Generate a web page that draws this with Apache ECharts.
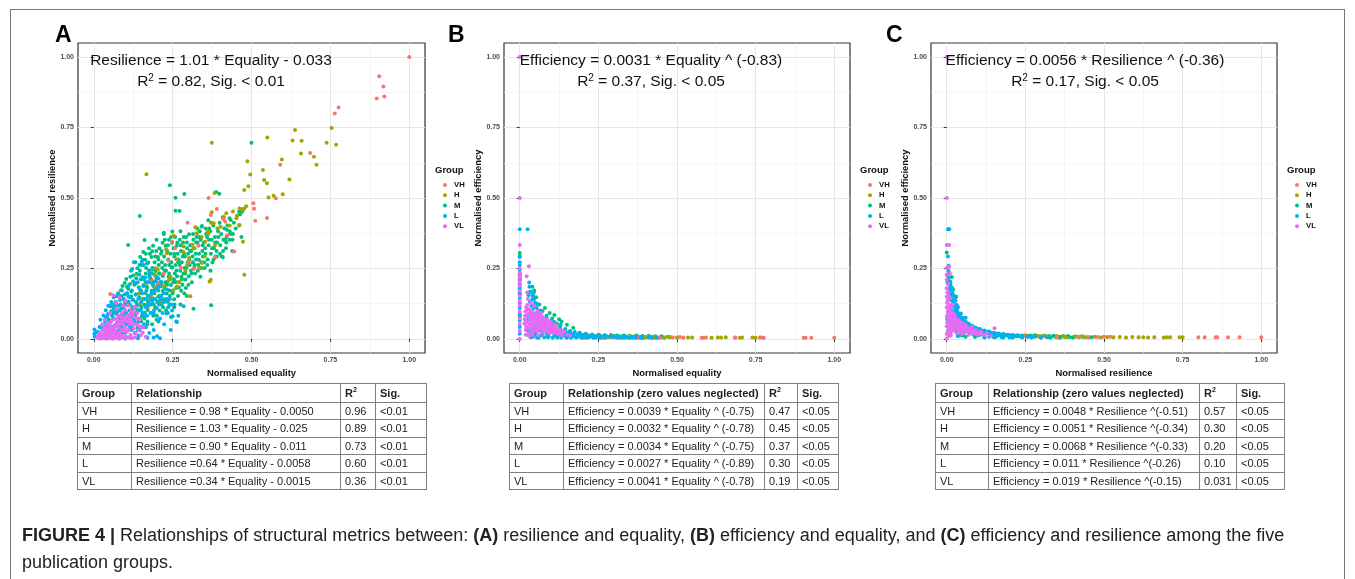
<!DOCTYPE html>
<html><head><meta charset="utf-8">
<script src="https://cdn.jsdelivr.net/npm/echarts@6/dist/echarts.min.js"></script>
<style>
html,body{margin:0;padding:0;background:#fff;}
#wrap{position:relative;width:1355px;height:579px;overflow:hidden;font-family:"Liberation Sans",Arial,sans-serif;background:#fff;}
#chart{position:absolute;left:0;top:0;width:1355px;height:579px;}
#frame{position:absolute;left:10px;top:9px;width:1333px;height:620px;border:1px solid #777;pointer-events:none;}
table.t{position:absolute;border-collapse:collapse;table-layout:fixed;font-size:11px;color:#222;font-family:"Liberation Sans",Arial,sans-serif;}
table.t td{border:1px solid #808080;padding:0 0 0 4px;white-space:nowrap;overflow:hidden;vertical-align:middle;line-height:12px;}
table.t tr.h td{font-weight:bold;}
table.t sup{font-size:7px;line-height:0;vertical-align:5px;}
#cap{position:absolute;left:22px;top:522px;font-size:18px;line-height:27px;color:#222;white-space:nowrap;}
</style>
</head><body>
<div id="wrap">
<div id="chart"></div>
<div id="frame"></div>
<div id="cap"><b>FIGURE 4 |</b> Relationships of structural metrics between: <b>(A)</b> resilience and equality, <b>(B)</b> efficiency and equality, and <b>(C)</b> efficiency and resilience among the five<br>publication groups.</div>
</div>
<script>
// ---------- data ----------
const groups = ['VH','H','M','L','VL'];
const tickValues = [0, 0.25, 0.5, 0.75, 1];
const minorValues = [0.125, 0.375, 0.625, 0.875];

// Panel A: x = normalised equality, y = normalised resilience
const A_VH = [[1.00,1.00],[0.905,0.932],[0.918,0.896],[0.921,0.860],[0.897,0.853],[0.776,0.821],[0.764,0.800],[0.686,0.660],[0.591,0.618],[0.577,0.499],[0.549,0.429],[0.512,0.419],[0.506,0.481],[0.508,0.462],[0.364,0.500],[0.390,0.461],[0.411,0.425],[0.297,0.412],[0.445,0.310],[0.385,0.290],[0.316,0.248],[0.248,0.345],[0.258,0.322],[0.052,0.159],[0.371,0.440],[0.417,0.416],[0.222,0.233],[0.202,0.198],[0.152,0.163],[0.183,0.212],[0.276,0.252],[0.332,0.331],[0.301,0.272],[0.423,0.368],[0.137,0.118],[0.104,0.071],[0.236,0.278]];
const A_H = [[0.754,0.748],[0.638,0.741],[0.630,0.704],[0.659,0.703],[0.550,0.715],[0.738,0.696],[0.768,0.689],[0.374,0.696],[0.657,0.658],[0.698,0.646],[0.706,0.618],[0.596,0.637],[0.487,0.630],[0.536,0.599],[0.496,0.583],[0.540,0.564],[0.620,0.566],[0.549,0.552],[0.490,0.542],[0.477,0.528],[0.599,0.513],[0.570,0.508],[0.554,0.502],[0.167,0.584],[0.383,0.518],[0.477,0.462],[0.470,0.460],[0.454,0.436],[0.420,0.446],[0.374,0.449],[0.380,0.410],[0.462,0.404],[0.473,0.345],[0.477,0.228],[0.322,0.396],[0.327,0.375],[0.353,0.345],[0.285,0.328],[0.316,0.322],[0.344,0.269],[0.367,0.204],[0.371,0.210],[0.253,0.366],[0.195,0.251],[0.211,0.198],[0.190,0.186],[0.306,0.151],[0.264,0.186],[0.148,0.127],[0.095,0.092],[0.232,0.304],[0.203,0.247],[0.221,0.188],[0.243,0.221],[0.262,0.283],[0.284,0.309],[0.302,0.287],[0.181,0.153],[0.162,0.194],[0.213,0.131],[0.251,0.172],[0.193,0.228],[0.229,0.318],[0.271,0.203],[0.313,0.334],[0.342,0.362],[0.362,0.381],[0.384,0.332],[0.352,0.293],[0.291,0.241],[0.122,0.104],[0.143,0.161],[0.172,0.113],[0.334,0.252],[0.402,0.398],[0.413,0.433],[0.441,0.452],[0.462,0.463],[0.483,0.471],[0.452,0.428],[0.372,0.412],[0.392,0.392],[0.431,0.402],[0.363,0.372],[0.296,0.262],[0.238,0.208],[0.158,0.141]];
const A_M = [[0.500,0.696],[0.241,0.545],[0.287,0.514],[0.259,0.501],[0.388,0.521],[0.398,0.515],[0.259,0.455],[0.272,0.454],[0.146,0.436],[0.222,0.377],[0.161,0.351],[0.109,0.333],[0.422,0.387],[0.409,0.290],[0.372,0.119],[0.264,0.060],[0.316,0.107],[0.461,0.452],[0.455,0.438],[0.430,0.428],[0.433,0.372],[0.416,0.352],[0.342,0.398],
[0.041,0.021],[0.043,0.052],[0.038,0.078],[0.047,0.033],[0.052,0.061],[0.055,0.098],[0.049,0.043],[0.058,0.121],[0.061,0.028],[0.064,0.072],[0.066,0.113],[0.063,0.148],[0.071,0.051],[0.073,0.092],[0.069,0.131],[0.075,0.019],[0.077,0.162],[0.081,0.042],[0.084,0.081],[0.079,0.118],[0.086,0.173],[0.083,0.103],[0.092,0.063],[0.089,0.109],[0.094,0.142],[0.091,0.188],[0.096,0.031],
[0.101,0.052],[0.104,0.088],[0.099,0.128],[0.106,0.161],[0.103,0.213],[0.108,0.079],[0.112,0.071],[0.114,0.122],[0.109,0.178],[0.116,0.221],[0.111,0.033],[0.118,0.151],[0.121,0.092],[0.124,0.139],[0.119,0.168],[0.126,0.203],[0.122,0.248],[0.127,0.062],[0.123,0.112],[0.131,0.083],[0.134,0.131],[0.129,0.192],[0.136,0.231],[0.133,0.158],[0.138,0.101],[0.132,0.272],
[0.141,0.102],[0.144,0.148],[0.139,0.201],[0.146,0.242],[0.143,0.183],[0.148,0.121],[0.142,0.071],[0.147,0.291],[0.151,0.112],[0.154,0.141],[0.149,0.172],[0.156,0.219],[0.153,0.262],[0.158,0.191],[0.152,0.082],[0.157,0.308],[0.161,0.121],[0.164,0.163],[0.159,0.211],[0.166,0.252],[0.163,0.281],[0.168,0.142],[0.162,0.093],[0.167,0.188],[0.165,0.232],
[0.171,0.103],[0.174,0.152],[0.169,0.182],[0.176,0.222],[0.173,0.271],[0.178,0.302],[0.172,0.131],[0.177,0.201],[0.175,0.243],[0.181,0.122],[0.184,0.171],[0.179,0.213],[0.186,0.252],[0.183,0.291],[0.188,0.331],[0.182,0.151],[0.187,0.192],[0.185,0.232],[0.189,0.082],
[0.191,0.142],[0.194,0.181],[0.189,0.203],[0.196,0.241],[0.193,0.272],[0.198,0.312],[0.192,0.162],[0.197,0.222],[0.195,0.112],[0.199,0.352],[0.201,0.131],[0.204,0.172],[0.199,0.213],[0.206,0.262],[0.203,0.291],[0.208,0.322],[0.202,0.192],[0.207,0.233],[0.205,0.151],[0.209,0.101],
[0.211,0.152],[0.214,0.193],[0.209,0.231],[0.216,0.272],[0.213,0.302],[0.218,0.341],[0.212,0.203],[0.217,0.252],[0.215,0.121],[0.219,0.171],[0.221,0.141],[0.224,0.182],[0.219,0.223],[0.226,0.262],[0.223,0.292],[0.228,0.331],[0.222,0.372],[0.227,0.201],[0.225,0.243],[0.229,0.102],
[0.231,0.161],[0.234,0.203],[0.229,0.242],[0.236,0.282],[0.233,0.312],[0.238,0.352],[0.232,0.192],[0.237,0.221],[0.235,0.132],[0.239,0.262],[0.241,0.152],[0.244,0.191],[0.239,0.232],[0.246,0.272],[0.243,0.302],[0.248,0.341],[0.242,0.213],[0.247,0.253],[0.245,0.122],[0.249,0.381],
[0.251,0.172],[0.254,0.212],[0.249,0.253],[0.256,0.292],[0.253,0.322],[0.258,0.362],[0.252,0.201],[0.257,0.232],[0.255,0.141],[0.261,0.181],[0.264,0.222],[0.259,0.262],[0.266,0.302],[0.263,0.331],[0.268,0.272],[0.262,0.243],[0.267,0.152],
[0.271,0.201],[0.274,0.242],[0.269,0.282],[0.276,0.312],[0.273,0.352],[0.278,0.221],[0.272,0.262],[0.277,0.171],[0.275,0.382],[0.281,0.192],[0.284,0.232],[0.279,0.272],[0.286,0.302],[0.283,0.342],[0.288,0.252],[0.282,0.292],[0.287,0.161],
[0.291,0.211],[0.294,0.252],[0.289,0.292],[0.296,0.322],[0.293,0.362],[0.298,0.272],[0.292,0.181],[0.301,0.222],[0.304,0.262],[0.299,0.302],[0.306,0.332],[0.303,0.282],[0.308,0.242],[0.302,0.371],[0.311,0.201],[0.314,0.272],[0.309,0.312],[0.316,0.352],[0.313,0.292],[0.318,0.252],
[0.321,0.232],[0.324,0.282],[0.319,0.322],[0.326,0.362],[0.323,0.302],[0.328,0.392],[0.331,0.262],[0.334,0.302],[0.329,0.342],[0.336,0.382],[0.333,0.281],[0.338,0.221],[0.341,0.272],[0.344,0.312],[0.339,0.352],[0.346,0.292],[0.343,0.401],
[0.351,0.252],[0.354,0.302],[0.349,0.342],[0.356,0.372],[0.353,0.322],[0.361,0.282],[0.364,0.332],[0.359,0.362],[0.366,0.392],[0.363,0.421],[0.371,0.302],[0.374,0.352],[0.369,0.382],[0.376,0.272],[0.381,0.322],[0.384,0.362],[0.379,0.402],[0.386,0.292],
[0.391,0.342],[0.394,0.382],[0.389,0.312],[0.401,0.332],[0.404,0.372],[0.399,0.412],[0.406,0.292],[0.411,0.352],[0.414,0.392],[0.409,0.432],[0.421,0.362],[0.424,0.402],[0.419,0.322],[0.431,0.382],[0.434,0.422],[0.441,0.372],[0.444,0.412],[0.439,0.312],[0.461,0.402],[0.464,0.442],[0.471,0.452],[0.468,0.362],
[0.105,0.185],[0.115,0.195],[0.125,0.225],[0.135,0.215],[0.145,0.262],[0.155,0.281],[0.165,0.302],[0.175,0.322],[0.185,0.311],[0.195,0.292],[0.205,0.282],[0.215,0.312],[0.225,0.352],[0.235,0.332],[0.245,0.362],[0.255,0.302],[0.265,0.342],[0.275,0.332],[0.285,0.362],[0.295,0.342],[0.305,0.312],[0.315,0.372],[0.325,0.342],[0.335,0.362],[0.345,0.332],[0.355,0.392],[0.365,0.352],[0.375,0.322],[0.385,0.342],[0.395,0.362],
[0.12,0.042],[0.13,0.052],[0.14,0.041],[0.15,0.062],[0.16,0.072],[0.17,0.062],[0.18,0.092],[0.19,0.122],[0.2,0.082],[0.21,0.132],[0.22,0.112],[0.23,0.142],[0.24,0.172],[0.25,0.162],[0.26,0.202],[0.27,0.182],[0.28,0.212],[0.29,0.232],[0.3,0.192],[0.31,0.232],[0.32,0.262],[0.33,0.242],[0.34,0.252],[0.35,0.272],[0.36,0.262],[0.37,0.242],[0.38,0.282],[0.39,0.292],[0.4,0.302],[0.41,0.312],[0.42,0.342],[0.43,0.352],[0.44,0.352],[0.45,0.392],
[0.235,0.092],[0.255,0.112],[0.275,0.122],[0.295,0.152],[0.245,0.078],[0.205,0.062],[0.185,0.052],[0.165,0.041],[0.145,0.031],[0.091,0.021],[0.078,0.072],[0.068,0.098],[0.058,0.082],[0.048,0.068],[0.088,0.152],[0.098,0.198]];
const A_L = [[0.002,0.033],[0.002,0.018],[0.003,0.008],[0.012,0.025],[0.018,0.042],[0.021,0.068],[0.025,0.012],[0.028,0.051],[0.031,0.083],[0.033,0.029],[0.036,0.062],[0.038,0.102],[0.041,0.041],[0.043,0.078],[0.046,0.118],[0.048,0.021],[0.051,0.058],[0.053,0.093],[0.055,0.131],[0.057,0.032],[0.061,0.071],[0.063,0.108],[0.065,0.151],[0.067,0.047],[0.069,0.012],[0.071,0.088],[0.073,0.121],[0.075,0.062],[0.077,0.158],[0.079,0.031],[0.081,0.101],[0.083,0.138],[0.085,0.072],[0.087,0.048],[0.089,0.172],[0.091,0.112],[0.093,0.082],[0.095,0.142],[0.097,0.058],[0.099,0.021],[0.101,0.121],[0.103,0.092],[0.105,0.162],[0.107,0.068],[0.109,0.188],[0.111,0.132],[0.113,0.101],[0.115,0.042],[0.117,0.148],[0.119,0.078],[0.121,0.172],[0.123,0.112],[0.125,0.138],[0.127,0.272],[0.128,0.061],[0.131,0.092],[0.133,0.158],[0.135,0.198],[0.137,0.122],[0.139,0.032],[0.141,0.142],[0.143,0.102],[0.145,0.178],[0.147,0.071],[0.149,0.212],[0.151,0.131],[0.153,0.162],[0.155,0.092],[0.157,0.188],[0.159,0.052],[0.161,0.142],[0.163,0.218],[0.165,0.112],[0.167,0.172],[0.169,0.082],[0.171,0.152],[0.173,0.201],[0.175,0.122],[0.177,0.232],[0.179,0.216],[0.181,0.092],[0.183,0.162],[0.185,0.132],[0.187,0.192],[0.191,0.102],[0.193,0.172],[0.196,0.142],[0.199,0.068],[0.201,0.009],[0.204,0.182],[0.207,0.122],[0.211,0.186],[0.214,0.152],[0.218,0.092],[0.221,0.162],[0.226,0.132],[0.232,0.175],[0.236,0.112],[0.241,0.142],[0.248,0.101],[0.256,0.122],[0.268,0.082],[0.285,0.116],[0.261,0.062],[0.244,0.032],[0.223,0.052],[0.116,0.009],[0.142,0.012],[0.176,0.021],[0.158,0.262],[0.138,0.251],[0.118,0.242],[0.098,0.158],[0.074,0.151],[0.053,0.116],[0.063,0.045],[0.042,0.021],[0.127,0.068],[0.169,0.268],[0.152,0.275],
[0.06,0.09],[0.07,0.13],[0.08,0.06],[0.09,0.04],[0.1,0.1],[0.11,0.15],[0.12,0.09],[0.13,0.11],[0.14,0.06],[0.15,0.1],[0.16,0.08],[0.17,0.12],[0.18,0.14],[0.19,0.09],[0.2,0.11],[0.21,0.14],[0.22,0.13],[0.23,0.09],[0.24,0.12],[0.25,0.08],[0.11,0.052],[0.12,0.032],[0.13,0.021],[0.15,0.042],[0.17,0.052],[0.19,0.032],[0.21,0.072],[0.23,0.142],[0.195,0.205],[0.205,0.215],[0.185,0.245],[0.215,0.201],[0.165,0.202],[0.145,0.228],[0.125,0.205],[0.105,0.131],[0.095,0.108],[0.085,0.122],[0.075,0.098],[0.065,0.122],[0.045,0.088],[0.035,0.048],[0.025,0.038],[0.015,0.012],[0.005,0.022],[0.1,0.001],[0.08,0.002],[0.06,0.005],[0.14,0.002],[0.17,0.004],[0.19,0.005],[0.21,0.002]];
const A_VL = [[0.012,0.003],[0.015,0.012],[0.018,0.006],[0.021,0.022],[0.023,0.004],[0.026,0.014],[0.028,0.031],[0.031,0.008],[0.033,0.019],[0.035,0.042],[0.037,0.003],[0.039,0.026],[0.041,0.011],[0.043,0.052],[0.045,0.034],[0.047,0.006],[0.049,0.021],[0.051,0.043],[0.053,0.013],[0.055,0.062],[0.057,0.028],[0.059,0.004],[0.061,0.038],[0.063,0.018],[0.065,0.071],[0.067,0.048],[0.069,0.009],[0.071,0.029],[0.073,0.058],[0.075,0.015],[0.077,0.082],[0.079,0.041],[0.081,0.022],[0.083,0.005],[0.085,0.063],[0.087,0.032],[0.089,0.092],[0.091,0.012],[0.093,0.052],[0.095,0.073],[0.097,0.027],[0.099,0.102],[0.101,0.042],[0.103,0.008],[0.105,0.061],[0.107,0.085],[0.109,0.118],[0.111,0.032],[0.113,0.072],[0.115,0.052],[0.117,0.014],[0.119,0.098],[0.121,0.063],[0.124,0.082],[0.127,0.038],[0.129,0.112],[0.132,0.021],[0.135,0.052],[0.138,0.091],[0.142,0.031],[0.146,0.068],[0.149,0.012],[0.062,0.155],[0.071,0.128],[0.093,0.118],[0.052,0.092],[0.035,0.068],[0.027,0.051],[0.117,0.003],[0.157,0.041],[0.165,0.008],[0.081,0.147],[0.101,0.135],
[0.02,0.001],[0.03,0.002],[0.04,0.001],[0.05,0.002],[0.06,0.001],[0.07,0.003],[0.08,0.001],[0.09,0.004],[0.1,0.002],[0.11,0.005],[0.12,0.002],[0.13,0.006],[0.045,0.015],[0.055,0.025],[0.065,0.035],[0.075,0.045],[0.085,0.055],[0.095,0.065],[0.105,0.075],[0.115,0.085],[0.125,0.095],[0.135,0.075],[0.145,0.045],[0.155,0.022],[0.125,0.052],[0.065,0.022],[0.085,0.012],[0.105,0.025],[0.115,0.062],[0.095,0.035],[0.075,0.068],[0.055,0.045],[0.035,0.025],[0.025,0.008],[0.038,0.035],[0.048,0.055],[0.072,0.105],[0.088,0.078]];

// Panel B: x = normalised equality, y = normalised efficiency
const B_VH = [[0.445,0.004],[0.487,0.005],[0.509,0.007],[0.578,0.004],[0.684,0.005],[0.774,0.004],[0.903,0.004],[0.909,0.004],[0.927,0.004],[1.0,0.004],[0.3,0.006],[0.38,0.005],[0.52,0.004],[0.592,0.005],[0.686,0.004],[0.764,0.005],[0.776,0.004],[0.25,0.008],[0.2,0.01]];
const B_H = [[0.16,0.009],[0.19,0.011],[0.22,0.008],[0.25,0.009],[0.28,0.007],[0.31,0.008],[0.34,0.006],[0.37,0.007],[0.4,0.006],[0.43,0.006],[0.46,0.005],[0.48,0.006],[0.5,0.005],[0.52,0.005],[0.535,0.005],[0.548,0.005],[0.583,0.004],[0.61,0.004],[0.63,0.005],[0.64,0.005],[0.655,0.006],[0.7,0.004],[0.707,0.005],[0.74,0.005],[0.75,0.004],[0.765,0.005],[0.23,0.013],[0.26,0.004],[0.29,0.012],[0.32,0.003],[0.35,0.01],[0.38,0.004],[0.41,0.009],[0.44,0.003],[0.47,0.008],[0.2,0.004],[0.12,0.012],[0.14,0.016]];
const B_M = [[0,0.305],[0,0.293],[0,0.234],[0,0.214],[0,0.182],[0,0.158],[0,0.08],[0.04,0.185],[0.03,0.165],[0.046,0.172],[0.042,0.158],[0.052,0.148],[0.062,0.122],[0.072,0.098],[0.095,0.092],[0.133,0.062],[0.103,0.072],[0.118,0.055],[0.085,0.082],[0.056,0.058],[0.045,0.032],[0.066,0.04],[0.081,0.028],[0.094,0.03],[0.107,0.025],[0.122,0.022],[0.138,0.018],[0.152,0.019],[0.168,0.015],[0.185,0.013],[0.2,0.014],[0.218,0.012],[0.236,0.011],[0.255,0.012],[0.275,0.01],[0.295,0.011],[0.315,0.009],[0.335,0.01],[0.355,0.008],[0.375,0.009],[0.395,0.007],[0.415,0.008],[0.435,0.007],[0.455,0.006],[0.475,0.007],[0.09,0.006],[0.12,0.005],[0.15,0.004],[0.18,0.006],[0.21,0.004],[0.24,0.005],[0.27,0.004],[0.3,0.005],[0.33,0.004],[0.36,0.004],[0.39,0.003],[0.42,0.003],[0.06,0.004],[0.035,0.006],[0.022,0.04],[0.027,0.07],
[0.05,0.02],[0.07,0.015],[0.09,0.018],[0.11,0.012],[0.13,0.014],[0.16,0.009],[0.19,0.008],[0.22,0.007],[0.25,0.007],[0.28,0.006],[0.31,0.006],[0.34,0.005],[0.37,0.005],[0.4,0.005],[0.43,0.004],[0.46,0.004],[0.055,0.035],[0.075,0.045],[0.098,0.05],[0.112,0.04],[0.128,0.045],[0.145,0.035],[0.16,0.028],[0.175,0.025],[0.19,0.022],[0.21,0.018],[0.23,0.016],[0.25,0.015],[0.27,0.013],[0.29,0.014],[0.31,0.012],[0.33,0.012],[0.35,0.011],[0.37,0.012],[0.39,0.01],[0.41,0.011],[0.43,0.009],[0.45,0.009],[0.065,0.1],[0.08,0.11],[0.11,0.085],[0.125,0.07],[0.15,0.05],[0.17,0.04]];
const B_L = [[0,0.389],[0.025,0.389],[0,0.291],[0,0.272],[0,0.262],[0,0.245],[0,0.226],[0,0.209],[0,0.194],[0,0.178],[0,0.162],[0,0.145],[0,0.127],[0,0.11],[0,0.088],[0,0.064],[0,0.042],[0,0.018],[0.03,0.2],[0.031,0.185],[0.034,0.168],[0.041,0.152],[0.045,0.141],[0.028,0.155],[0.032,0.131],[0.037,0.118],[0.044,0.108],[0.049,0.128],[0.053,0.112],[0.058,0.102],[0.026,0.105],[0.033,0.092],[0.039,0.078],[0.046,0.088],[0.051,0.072],[0.057,0.082],[0.062,0.068],[0.068,0.078],[0.074,0.058],[0.079,0.068],[0.084,0.052],[0.089,0.058],[0.095,0.046],[0.101,0.052],[0.108,0.038],[0.114,0.044],[0.121,0.032],[0.128,0.036],[0.135,0.026],[0.142,0.031],[0.15,0.022],[0.158,0.025],[0.166,0.018],[0.175,0.021],[0.184,0.015],[0.193,0.017],[0.202,0.012],[0.212,0.014],[0.222,0.01],[0.233,0.012],[0.245,0.009],[0.258,0.01],[0.272,0.008],[0.288,0.009],[0.305,0.007],[0.322,0.008],[0.341,0.006],[0.362,0.007],[0.385,0.006],[0.41,0.005],[0.435,0.005],[0.03,0.012],[0.042,0.008],[0.055,0.005],[0.066,0.012],[0.078,0.006],[0.092,0.009],[0.105,0.004],[0.118,0.008],[0.132,0.005],[0.148,0.006],[0.163,0.004],[0.18,0.005],[0.198,0.004],[0.216,0.005],[0.235,0.004],[0.255,0.004],[0.038,0.035],[0.048,0.025],[0.06,0.03],[0.072,0.022],[0.085,0.018],[0.098,0.024],[0.112,0.016],[0.126,0.019],[0.14,0.013],[0.155,0.011],[0.17,0.01],
[0.02,0.06],[0.025,0.03],[0.028,0.075],[0.035,0.055],[0.043,0.045],[0.05,0.038],[0.058,0.042],[0.065,0.036],[0.072,0.032],[0.08,0.04],[0.088,0.03],[0.095,0.034],[0.105,0.025],[0.115,0.027],[0.125,0.02],[0.135,0.018],[0.148,0.015],[0.16,0.014],[0.17,0.012],[0.19,0.01],[0.21,0.009],[0.23,0.008],[0.25,0.006],[0.27,0.005],[0.29,0.006],[0.31,0.004],[0.33,0.005],[0.35,0.003],[0.37,0.004],[0.39,0.003],[0.27,0.012],[0.3,0.01],[0.33,0.009],[0.36,0.008],[0.39,0.008],[0.42,0.007],[0.045,0.165],[0.04,0.14],[0.055,0.125],[0.06,0.09],[0.07,0.1],[0.085,0.075],[0.1,0.065],[0.11,0.06],[0.13,0.05],[0.035,0.025],[0.047,0.015],[0.052,0.065]];
const B_VL = [[0,1.0],[0,0.5],[0,0.333],[0,0.25],[0.029,0.258],[0.022,0.222],[0,0.232],[0,0.218],[0,0.203],[0,0.188],[0,0.171],[0,0.152],[0,0.133],[0,0.118],[0,0.096],[0,0.072],[0,0.051],[0,0.028],[0,0.0],[0.015,0.055],[0.017,0.082],[0.019,0.032],[0.021,0.112],[0.023,0.062],[0.025,0.041],[0.026,0.142],[0.028,0.088],[0.029,0.021],[0.031,0.072],[0.033,0.052],[0.034,0.101],[0.036,0.032],[0.038,0.068],[0.039,0.085],[0.041,0.046],[0.043,0.061],[0.044,0.026],[0.046,0.078],[0.048,0.052],[0.049,0.038],[0.051,0.091],[0.053,0.066],[0.055,0.028],[0.057,0.048],[0.059,0.072],[0.061,0.036],[0.063,0.058],[0.065,0.082],[0.067,0.042],[0.069,0.022],[0.071,0.064],[0.073,0.048],[0.075,0.031],[0.077,0.072],[0.079,0.052],[0.081,0.038],[0.083,0.061],[0.085,0.026],[0.087,0.046],[0.089,0.066],[0.091,0.034],[0.093,0.052],[0.095,0.021],[0.097,0.041],[0.099,0.058],[0.102,0.031],[0.105,0.046],[0.108,0.022],[0.111,0.037],[0.114,0.052],[0.117,0.028],[0.121,0.018],[0.125,0.033],[0.13,0.022],[0.135,0.012],[0.14,0.026],[0.15,0.016],[0.16,0.011],[0.045,0.118],[0.035,0.128],[0.056,0.098],[0.068,0.092],[0.024,0.165],[0.019,0.015],
[0.016,0.07],[0.018,0.098],[0.02,0.045],[0.022,0.085],[0.024,0.12],[0.027,0.058],[0.03,0.105],[0.032,0.038],[0.035,0.082],[0.037,0.05],[0.04,0.095],[0.042,0.072],[0.045,0.058],[0.047,0.04],[0.05,0.065],[0.052,0.078],[0.054,0.044],[0.058,0.06],[0.06,0.085],[0.062,0.05],[0.066,0.068],[0.07,0.038],[0.072,0.078],[0.076,0.056],[0.078,0.03],[0.082,0.07],[0.086,0.055],[0.09,0.044],[0.094,0.062],[0.098,0.03],[0.1,0.048],[0.104,0.038],[0.11,0.028],[0.115,0.04],[0.12,0.03],[0.03,0.01],[0.04,0.015],[0.06,0.012]];

// Panel C: x = normalised resilience, y = normalised efficiency
const C_VH = [[0.8,0.006],[0.82,0.006],[0.855,0.006],[0.86,0.006],[0.894,0.006],[0.931,0.006],[1.0,0.006],[0.3,0.006],[0.48,0.007],[0.5,0.008],[0.52,0.008],[0.45,0.007],[0.42,0.008],[0.35,0.006],[0.25,0.009]];
const C_H = [[0.2,0.008],[0.23,0.01],[0.26,0.008],[0.29,0.011],[0.32,0.007],[0.35,0.01],[0.38,0.006],[0.41,0.009],[0.44,0.006],[0.47,0.008],[0.49,0.005],[0.51,0.007],[0.53,0.006],[0.55,0.007],[0.57,0.005],[0.59,0.007],[0.61,0.006],[0.625,0.006],[0.64,0.005],[0.66,0.006],[0.69,0.005],[0.7,0.006],[0.71,0.006],[0.74,0.006],[0.75,0.006],[0.25,0.013],[0.31,0.012],[0.37,0.01],[0.43,0.009],[0.15,0.012],[0.12,0.015]];
const C_M = [[0,0.307],[0.002,0.228],[0.004,0.21],[0.018,0.18],[0.012,0.19],[0.02,0.13],[0.026,0.12],[0.032,0.1],[0.038,0.09],[0.05,0.075],[0.06,0.062],[0.07,0.054],[0.08,0.047],[0.092,0.04],[0.105,0.035],[0.12,0.03],[0.135,0.026],[0.15,0.022],[0.165,0.019],[0.18,0.017],[0.195,0.015],[0.21,0.014],[0.225,0.013],[0.24,0.012],[0.255,0.011],[0.27,0.01],[0.285,0.01],[0.3,0.009],[0.315,0.009],[0.33,0.008],[0.345,0.008],[0.36,0.008],[0.375,0.007],[0.39,0.007],[0.405,0.007],[0.42,0.006],[0.44,0.006],[0.46,0.006],[0.06,0.008],[0.09,0.007],[0.12,0.006],[0.15,0.006],[0.18,0.005],[0.21,0.005],[0.24,0.005],[0.27,0.005],[0.3,0.004],[0.33,0.004],[0.36,0.004],[0.04,0.012],[0.03,0.03],[0.022,0.05],
[0.015,0.1],[0.022,0.09],[0.028,0.08],[0.035,0.065],[0.042,0.055],[0.048,0.05],[0.055,0.045],[0.065,0.04],[0.075,0.035],[0.085,0.032],[0.1,0.028],[0.11,0.024],[0.125,0.022],[0.14,0.02],[0.155,0.018],[0.17,0.015],[0.19,0.013],[0.205,0.012],[0.22,0.011],[0.235,0.01],[0.25,0.009],[0.265,0.012],[0.28,0.013],[0.295,0.008],[0.31,0.011],[0.325,0.01],[0.34,0.011],[0.355,0.006],[0.37,0.009],[0.385,0.01],[0.4,0.005],[0.43,0.008],[0.45,0.005],[0.006,0.26],[0.01,0.205],[0.016,0.22],[0.02,0.175],[0.03,0.15]];
const C_L = [[0.004,0.389],[0.008,0.389],[0.004,0.292],[0.012,0.2],[0.006,0.218],[0.015,0.182],[0.018,0.165],[0.022,0.155],[0.025,0.142],[0.028,0.135],[0.032,0.12],[0.036,0.112],[0.01,0.17],[0.014,0.138],[0.019,0.118],[0.024,0.098],[0.03,0.088],[0.035,0.078],[0.04,0.072],[0.045,0.065],[0.05,0.058],[0.056,0.052],[0.062,0.048],[0.068,0.044],[0.075,0.04],[0.082,0.036],[0.09,0.034],[0.098,0.03],[0.106,0.028],[0.115,0.025],[0.124,0.022],[0.133,0.02],[0.142,0.018],[0.152,0.016],[0.162,0.014],[0.172,0.013],[0.183,0.012],[0.195,0.011],[0.208,0.01],[0.222,0.009],[0.238,0.008],[0.255,0.008],[0.04,0.03],[0.055,0.022],[0.07,0.018],[0.085,0.015],[0.1,0.012],[0.118,0.01],[0.135,0.008],[0.155,0.007],[0.175,0.006],[0.2,0.005],[0.028,0.06],[0.048,0.038],[0.065,0.03],[0.08,0.025],[0.095,0.022],[0.11,0.018],[0.045,0.09],[0.06,0.075],[0.015,0.06],[0.025,0.045],[0.008,0.14],[0.005,0.11],[0.002,0.07],[0.01,0.025],[0.035,0.01],
[0.003,0.25],[0.006,0.24],[0.002,0.2],[0.008,0.18],[0.012,0.16],[0.016,0.15],[0.02,0.14],[0.023,0.125],[0.027,0.11],[0.031,0.105],[0.034,0.095],[0.038,0.082],[0.042,0.08],[0.046,0.07],[0.052,0.065],[0.058,0.06],[0.064,0.055],[0.07,0.05],[0.076,0.046],[0.083,0.044],[0.09,0.04],[0.097,0.036],[0.104,0.033],[0.112,0.03],[0.12,0.028],[0.13,0.025],[0.14,0.022],[0.15,0.02],[0.16,0.018],[0.17,0.016],[0.18,0.015],[0.19,0.014],[0.2,0.012],[0.21,0.012],[0.22,0.011],[0.23,0.01],[0.24,0.01],[0.26,0.009],[0.27,0.007],[0.28,0.008],[0.3,0.007],[0.32,0.006],[0.12,0.005],[0.14,0.012],[0.16,0.01],[0.18,0.008],[0.05,0.012],[0.06,0.04],[0.075,0.028],[0.09,0.02],[0.105,0.015]];
const C_VL = [[0,1.0],[0,0.5],[0,0.333],[0.008,0.333],[0.008,0.257],[0,0.251],[0.01,0.232],[0,0.228],[0,0.21],[0.004,0.195],[0,0.18],[0.006,0.165],[0,0.15],[0.003,0.138],[0.008,0.122],[0,0.112],[0.004,0.098],[0.01,0.088],[0,0.079],[0.006,0.068],[0.002,0.058],[0.012,0.052],[0,0.045],[0.008,0.038],[0.004,0.03],[0.014,0.024],[0,0.018],[0.006,0.01],[0,0.0],[0.016,0.065],[0.018,0.042],[0.02,0.092],[0.022,0.032],[0.024,0.062],[0.026,0.078],[0.028,0.048],[0.03,0.022],[0.033,0.055],[0.036,0.038],[0.039,0.065],[0.042,0.028],[0.045,0.045],[0.048,0.018],[0.052,0.035],[0.056,0.052],[0.06,0.026],[0.065,0.04],[0.07,0.015],[0.075,0.03],[0.08,0.042],[0.086,0.022],[0.092,0.032],[0.1,0.016],[0.108,0.026],[0.118,0.014],[0.128,0.02],[0.14,0.011],[0.152,0.038],[0.015,0.108],[0.012,0.145],[0.02,0.122],
[0.002,0.165],[0.004,0.152],[0.001,0.128],[0.007,0.105],[0.011,0.078],[0.013,0.095],[0.017,0.08],[0.019,0.058],[0.021,0.07],[0.023,0.05],[0.025,0.085],[0.027,0.038],[0.029,0.062],[0.031,0.045],[0.034,0.07],[0.037,0.025],[0.04,0.05],[0.043,0.038],[0.046,0.058],[0.05,0.028],[0.054,0.044],[0.058,0.036],[0.062,0.046],[0.067,0.028],[0.072,0.035],[0.078,0.022],[0.084,0.03],[0.09,0.018],[0.096,0.025],[0.104,0.02],[0.112,0.018],[0.005,0.045],[0.009,0.02],[0.003,0.088],[0.011,0.115],[0.015,0.035],[0.007,0.06],[0.013,0.012]];

// Overall fits shown on each panel
const eqA = ['Resilience = 1.01 * Equality - 0.033', ' = 0.82, Sig. < 0.01'];
const eqB = ['Efficiency = 0.0031 * Equality ^ (-0.83)', ' = 0.37, Sig. < 0.05'];
const eqC = ['Efficiency = 0.0056 * Resilience ^ (-0.36)', ' = 0.17, Sig. < 0.05'];

// Tables
const tblGroups = ['VH','H','M','L','VL'];
const tblA_rel = ['Resilience = 0.98 * Equality - 0.0050','Resilience = 1.03 * Equality - 0.025','Resilience = 0.90 * Equality - 0.011','Resilience =0.64 * Equality - 0.0058','Resilience =0.34 * Equality - 0.0015'];
const tblA_r2 = ['0.96','0.89','0.73','0.60','0.36'];
const tblA_sig = ['<0.01','<0.01','<0.01','<0.01','<0.01'];
const tblB_rel = ['Efficiency = 0.0039 * Equality ^ (-0.75)','Efficiency = 0.0032 * Equality ^ (-0.78)','Efficiency = 0.0034 * Equality ^ (-0.75)','Efficiency = 0.0027 * Equality ^ (-0.89)','Efficiency = 0.0041 * Equality ^ (-0.78)'];
const tblB_r2 = ['0.47','0.45','0.37','0.30','0.19'];
const tblB_sig = ['<0.05','<0.05','<0.05','<0.05','<0.05'];
const tblC_rel = ['Efficiency = 0.0048 * Resilience ^(-0.51)','Efficiency = 0.0051 * Resilience ^(-0.34)','Efficiency = 0.0068 * Resilience ^(-0.33)','Efficiency = 0.011 * Resilience ^(-0.26)','Efficiency = 0.019 * Resilience ^(-0.15)'];
const tblC_r2 = ['0.57','0.30','0.20','0.10','0.031'];
const tblC_sig = ['<0.05','<0.05','<0.05','<0.05','<0.05'];

// ---------- layout / style ----------
const colors = {VH:'#F8766D', H:'#A3A500', M:'#00BF7D', L:'#00B0F6', VL:'#E76BF3'};
const drawOrder = ['M','H','VH','L','VL'];
const FONT = '"Liberation Sans", Arial, sans-serif';

const panels = [
  {grid:{left:78, top:43, width:347, height:310}, xName:'Normalised equality', yName:'Normalised resilience',
   data:{VH:A_VH,H:A_H,M:A_M,L:A_L,VL:A_VL}, eq:eqA, eqX:211, letter:'A', letterX:55, legendX:435},
  {grid:{left:504, top:43, width:346, height:310}, xName:'Normalised equality', yName:'Normalised efficiency',
   data:{VH:B_VH,H:B_H,M:B_M,L:B_L,VL:B_VL}, eq:eqB, eqX:651, letter:'B', letterX:448, legendX:860},
  {grid:{left:931, top:43, width:346, height:310}, xName:'Normalised resilience', yName:'Normalised efficiency',
   data:{VH:C_VH,H:C_H,M:C_M,L:C_L,VL:C_VL}, eq:eqC, eqX:1085, letter:'C', letterX:886, legendX:1287}
];

const grids = [], xAxes = [], yAxes = [], series = [], legends = [], graphics = [];
const fmt = v => v.toFixed(2);
panels.forEach((p, i) => {
  grids.push(Object.assign({show:true, borderColor:'#333', borderWidth:1.2, backgroundColor:'#fff'}, p.grid));
  const mainAxis = (name, isX) => ({
    gridIndex:i, type:'value', min:-0.05, max:1.05, position: isX ? 'bottom' : 'left',
    name:name, nameLocation:'middle', nameGap: isX ? 11 : 20,
    nameTextStyle:{fontSize:9.4, fontWeight:'bold', color:'#111', fontFamily:FONT},
    axisLine:{show:false},
    axisTick:{show:true, length:3, customValues:tickValues, lineStyle:{color:'#333', width:1}},
    axisLabel:{customValues:tickValues, formatter:fmt, fontSize:7, fontWeight:'bold', color:'#4d4d4d', margin:4, fontFamily:FONT},
    splitLine:{show:true, lineStyle:{color:'#E6E6E6', width:1}}
  });
  const minorAxis = (isX) => ({
    gridIndex:i, type:'value', min:-0.05, max:1.05, position: isX ? 'top' : 'right',
    axisLine:{show:false}, axisTick:{show:false, customValues:minorValues},
    axisLabel:{show:false, customValues:minorValues},
    splitLine:{show:true, lineStyle:{color:'#F1F1F1', width:0.7}}
  });
  xAxes.push(mainAxis(p.xName, true)); yAxes.push(mainAxis(p.yName, false));
  xAxes.push(minorAxis(true)); yAxes.push(minorAxis(false));
  drawOrder.forEach(g => {
    series.push({name:g, type:'scatter', xAxisIndex:2*i, yAxisIndex:2*i, data:p.data[g],
      symbol:'circle', symbolSize:4, itemStyle:{color:colors[g], opacity:1}, silent:true});
  });
  legends.push({data:groups, orient:'vertical', left:p.legendX+3, top:175, icon:'circle',
    itemWidth:4, itemHeight:4, itemGap:0.3, selectedMode:false,
    textStyle:{fontSize:7.7, fontWeight:'bold', color:'#111', lineHeight:10, fontFamily:FONT, padding:[0,0,0,2]}});
  graphics.push({type:'text', z:100, left:p.legendX, top:165, style:{text:'Group', font:'bold 9.5px '+FONT, fill:'#111'}});
  graphics.push({type:'text', z:100, x:p.letterX, y:36, style:{text:p.letter, font:'bold 23px '+FONT, fill:'#000', verticalAlign:'middle'}});
  graphics.push({type:'text', z:100, x:p.eqX, y:61, style:{text:p.eq[0], font:'15.5px '+FONT, fill:'#111', align:'center', verticalAlign:'middle'}});
  graphics.push({type:'text', z:100, x:p.eqX, y:82, style:{
    text:'{r|R}{s|2}{r|'+p.eq[1]+'}', align:'center', verticalAlign:'middle',
    rich:{r:{font:'15.5px '+FONT, fill:'#111', lineHeight:18}, s:{font:'10px '+FONT, fill:'#111', verticalAlign:'top', lineHeight:10}}}});
});

const chart = echarts.init(document.getElementById('chart'), null, {renderer:'canvas'});
chart.setOption({
  animation:false, backgroundColor:'#fff',
  grid:grids, xAxis:xAxes, yAxis:yAxes, series:series, legend:legends, graphic:graphics
});

// ---------- tables ----------
function buildTable(left, widths, relHead, rel, r2, sig) {
  const t = document.createElement('table');
  t.className = 't';
  t.style.left = left + 'px'; t.style.top = '383px';
  const total = widths.reduce((a,b)=>a+b,0);
  t.style.width = total + 'px';
  const cg = document.createElement('colgroup');
  widths.forEach(w => { const c = document.createElement('col'); c.style.width = w + 'px'; cg.appendChild(c); });
  t.appendChild(cg);
  const hr = document.createElement('tr'); hr.className = 'h'; hr.style.height = '18.5px';
  ['Group', relHead].forEach(s => { const td = document.createElement('td'); td.textContent = s; hr.appendChild(td); });
  const tdR = document.createElement('td'); tdR.innerHTML = 'R<sup>2</sup>'; hr.appendChild(tdR);
  const tdS = document.createElement('td'); tdS.textContent = 'Sig.'; hr.appendChild(tdS);
  t.appendChild(hr);
  tblGroups.forEach((g, k) => {
    const tr = document.createElement('tr'); tr.style.height = '17.5px';
    [g, rel[k], r2[k], sig[k]].forEach(s => { const td = document.createElement('td'); td.textContent = s; tr.appendChild(td); });
    t.appendChild(tr);
  });
  document.getElementById('wrap').appendChild(t);
}
buildTable(77, [54, 209, 35, 51], 'Relationship', tblA_rel, tblA_r2, tblA_sig);
buildTable(509, [54, 201, 33, 41], 'Relationship (zero values neglected)', tblB_rel, tblB_r2, tblB_sig);
buildTable(935, [53, 211, 37, 48], 'Relationship (zero values neglected)', tblC_rel, tblC_r2, tblC_sig);
</script>
</body></html>
